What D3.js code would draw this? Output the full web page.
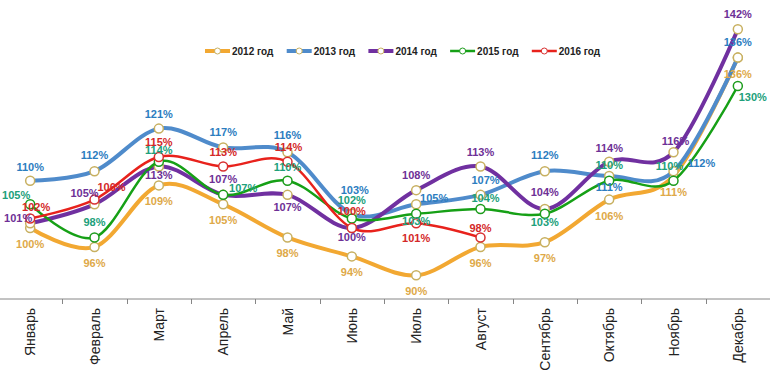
<!DOCTYPE html>
<html>
<head>
<meta charset="utf-8">
<script src="https://cdn.jsdelivr.net/npm/d3@7"></script>
<style>
  body { margin: 0; background: #fff; }
  svg { display: block; font-family: "Liberation Sans", Arial, sans-serif; }
</style>
</head>
<body>
<div id="chart"></div>
<script>
// months on the x axis
const months = ["Январь", "Февраль", "Март", "Апрель", "Май", "Июнь", "Июль",
  "Август", "Сентябрь", "Октябрь", "Ноябрь", "Декабрь"];

// series names
const years = ["2012 год", "2013 год", "2014 год", "2015 год", "2016 год"];

// values in percent
const v2012 = [100, 96, 109, 105, 98, 94, 90, 96, 97, 106, 111, 136];
const v2013 = [110, 112, 121, 117, 116, 103, 105, 107, 112, 111, 112, 136];
const v2014 = [101, 105, 113, 107, 107, 100, 108, 113, 104, 114, 116, 142];
const v2015 = [105, 98, 114, 107, 110, 102, 103, 104, 103, 110, 110, 130];
const v2016 = [102, 106, 115, 113, 114, 100, 101, 98];

// where each data label sits relative to its marker (dx, dy)
const off2012 = months.map(() => [0, 16]);
const off2013 = [[0,-14],[0,-16],[0,-15],[0,-15],[0,-17],[3,-24],[18,-6],[5,-15],[0,-16],[0,11],[28,-8],[0,-16]];
const off2014 = [[-12,-5],[-10,-11],[0,9],[0,-16],[0,12],[0,9],[0,-15],[0,-14],[0,-17],[0,-14],[2,-11],[0,-15]];
const off2015 = [[-14,-9],[0,-15],[0,-12],[20,-7],[0,-14],[0,-18],[0,7],[5,-11],[0,8],[0,-16],[-4,-15],[15,11]];
const off2016 = [[6,-11],[17,-13],[0,-15],[0,-14],[1,-15],[0,-17],[0,15],[0,-9]];

// styles per series
const series = [
  { name: years[0], values: v2012, offs: off2012, line: "#f2a832", label: "#dea948", marker: "#c8b060", width: 4 },
  { name: years[1], values: v2013, offs: off2013, line: "#4f8bcb", label: "#2c7dbf", marker: "#c8b060", width: 4 },
  { name: years[2], values: v2014, offs: off2014, line: "#7030a0", label: "#6e3096", marker: "#c8b060", width: 4 },
  { name: years[3], values: v2015, offs: off2015, line: "#16a016", label: "#20a07a", marker: "#1c9c1c", width: 2.5 },
  { name: years[4], values: v2016, offs: off2016, line: "#e8221c", label: "#d42828", marker: "#d83030", width: 2.5 }
];

const W = 770, H = 377;

const svg = d3.select("#chart")
  .append("svg")
  .attr("width", W)
  .attr("height", H);

// scales
const x = d3.scaleBand()
  .domain(months)
  .range([-2, 770]);

const y = d3.scaleLinear()
  .domain([85, 145])
  .range([299, 15]);

const cx = m => x(m) + x.bandwidth() / 2;

// x axis line
svg.append("line")
  .attr("x1", 0).attr("x2", W)
  .attr("y1", y(85)).attr("y2", y(85))
  .attr("stroke", "#868686")
  .attr("stroke-width", 1);

// tick marks between categories
svg.selectAll(".tick-mark")
  .data(months.slice(1))
  .enter().append("line")
  .attr("class", "tick-mark")
  .attr("x1", d => Math.round(x(d)) + 0.5)
  .attr("x2", d => Math.round(x(d)) + 0.5)
  .attr("y1", y(85))
  .attr("y2", y(85) + 5)
  .attr("stroke", "#868686");

// rotated month labels
svg.selectAll(".month")
  .data(months)
  .enter().append("text")
  .attr("class", "month")
  .attr("transform", d => `translate(${cx(d) + 5},308) rotate(-90)`)
  .attr("text-anchor", "end")
  .attr("font-size", 14)
  .attr("fill", "#222")
  .text(d => d);

// lines
const line = d3.line()
  .x((d, i) => cx(months[i]))
  .y(d => y(d))
  .curve(d3.curveCardinal.tension(0));

series.forEach(s => {
  const g = svg.append("g");

  g.append("path")
    .datum(s.values)
    .attr("fill", "none")
    .attr("stroke", s.line)
    .attr("stroke-width", s.width)
    .attr("stroke-linecap", "round")
    .attr("d", line);

  g.selectAll("circle")
    .data(s.values)
    .enter().append("circle")
    .attr("cx", (d, i) => cx(months[i]))
    .attr("cy", d => y(d))
    .attr("r", 4.5)
    .attr("fill", "#fff")
    .attr("stroke", s.marker)
    .attr("stroke-width", 1.5);
});

// data labels on top
series.forEach(s => {
  svg.append("g")
    .selectAll("text")
    .data(s.values)
    .enter().append("text")
    .attr("x", (d, i) => cx(months[i]) + s.offs[i][0])
    .attr("y", (d, i) => y(d) + s.offs[i][1])
    .attr("dy", "0.36em")
    .attr("text-anchor", "middle")
    .attr("font-size", 11)
    .attr("font-weight", "bold")
    .attr("fill", s.label)
    .text(d => d + "%");
});

// legend
const legend = svg.append("g")
  .attr("transform", "translate(205,51)");

const item = legend.selectAll(".item")
  .data(series)
  .enter().append("g")
  .attr("class", "item")
  .attr("transform", (d, i) => `translate(${i * 81.7},0)`);

item.append("line")
  .attr("x1", 0).attr("x2", 25)
  .attr("y1", 0).attr("y2", 0)
  .attr("stroke", d => d.line)
  .attr("stroke-width", d => d.width);

item.append("circle")
  .attr("cx", 12.5).attr("cy", 0)
  .attr("r", 3)
  .attr("fill", "#fff")
  .attr("stroke", d => d.marker)
  .attr("stroke-width", 1);

item.append("text")
  .attr("x", 27)
  .attr("y", 0)
  .attr("dy", "0.36em")
  .attr("font-size", 10)
  .attr("font-weight", "bold")
  .attr("fill", "#222")
  .text(d => d.name);
</script>
</body>
</html>
